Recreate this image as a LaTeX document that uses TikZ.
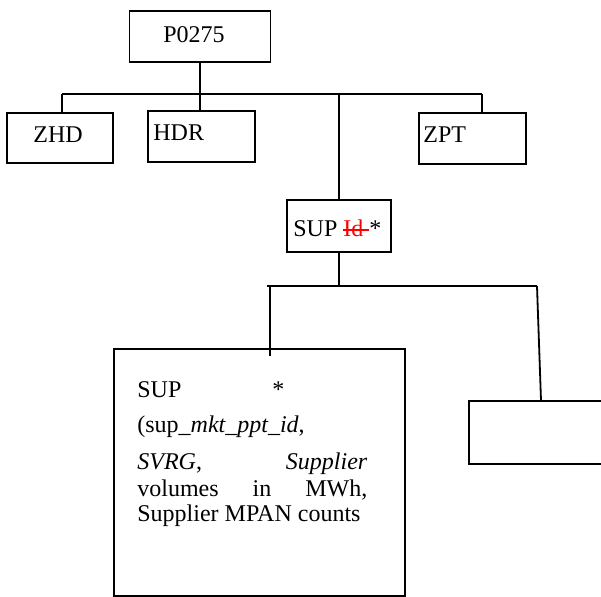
\documentclass[tikz,border=0pt]{standalone}
\usepackage{fontspec}
\setmainfont{Liberation Serif}

\newcommand{\strikered}[1]{{\color{red}\setbox0\hbox{#1}\rlap{\rule[0.27em]{\wd0}{0.6pt}}\box0}}

\tikzset{
  box/.style={draw, line width=0.65pt, inner sep=0pt},
  txt/.style={anchor=base west, inner sep=0pt, font=\fontsize{12pt}{13.8pt}\selectfont},
  link/.style={line width=0.9pt},
}

\begin{document}
\begin{tikzpicture}[x=0.5pt, y=-0.5pt]
  \clip (0,0) rectangle (601,597);
  % record boxes
  \node[box, minimum width=70.5pt, minimum height=25.5pt] (p0275) at (200,36.5) {};
  \node[box, minimum width=53pt, minimum height=25pt] (zhd) at (60,138) {};
  \node[box, minimum width=53.5pt, minimum height=25.5pt] (hdr) at (201.5,136.5) {};
  \node[box, minimum width=53.5pt, minimum height=25.5pt] (zpt) at (472.5,138.5) {};
  \node[box, minimum width=52pt, minimum height=26pt] (sup) at (339,226) {};
  \node[box, minimum width=145.5pt, minimum height=123.5pt] (detail) at (259.5,472.5) {};
  \node[box, minimum width=85.5pt, minimum height=31.5pt] (extra) at (554.5,432.5) {};

  % texts
  \node[txt] (p0275-t) at (163,43) {P0275};
  \node[txt] (zhd-t) at (33,143) {ZHD};
  \node[txt] (hdr-t) at (153,141) {HDR};
  \node[txt] (zpt-t) at (423,143) {ZPT};
  \node[txt] (sup-t) at (293,237) {SUP \strikered{Id\ }*};
  \node[txt] (detail-t1) at (137,398) {SUP};
  \node[txt] (detail-star) at (272,398) {*};
  \node[txt] (detail-t2) at (137,433) {(sup\_\textit{mkt\_ppt\_id},};
  \node[txt] (detail-t3) at (137,470) {\hbox to 115pt{\textit{SVRG}, \hfill \textit{Supplier}}};
  \node[txt] (detail-t4) at (137,497) {\hbox to 115pt{volumes \hfill in \hfill MWh,}};
  \node[txt] (detail-t5) at (137,522) {Supplier MPAN counts};

  % first level
  \coordinate (bar1L) at (62,94);
  \coordinate (bar1R) at (482,94);
  \draw[link] (bar1L) -- (bar1R);
  \draw[link] (p0275.south) -- (p0275.south |- hdr.north);
  \draw[link] (bar1L) -- (bar1L |- zhd.north);
  \draw[link] (bar1R) -- (bar1R |- zpt.north);
  \draw[link] (bar1L -| sup.north) -- (sup.north);

  % second level
  \coordinate (bar2L) at (267,286);
  \coordinate (bar2R) at (537,286);
  \coordinate (drop2L) at (270,286);
  \draw[link] (sup.south) -- (sup.south |- bar2L);
  \draw[link] (bar2L) -- (bar2R);
  \draw[link] (drop2L) -- ([yshift=-4pt]drop2L |- detail.north);
  \draw[link] (bar2R) -- ([xshift=2pt]bar2R |- extra.north);
\end{tikzpicture}
\end{document}
